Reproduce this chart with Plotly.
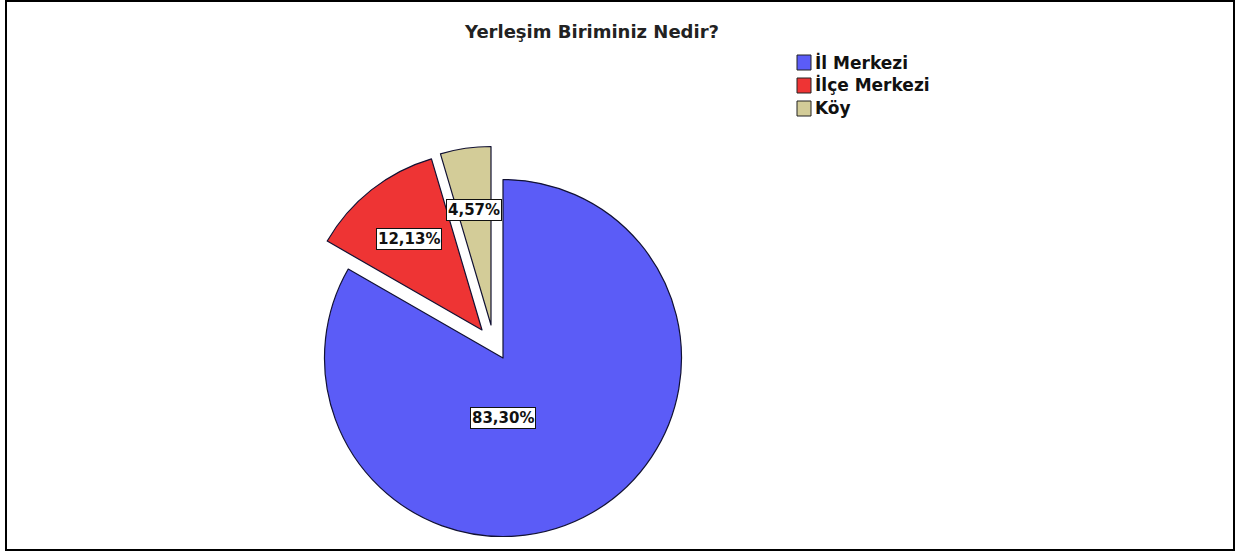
import plotly.graph_objects as go

# ---- data ----
TITLE = "Yerleşim Biriminiz Nedir?"
CATEGORIES = ["İl Merkezi", "İlçe Merkezi", "Köy"]
VALUES = [83.30, 12.13, 4.57]
COLORS = ["#5B5CF7", "#EE3434", "#D3CC98"]

# ---- layout / style constants ----
W, H = 1237, 554
R = 178.5                      # pie radius in px
CENTER = (503, 358)            # pie centre in px
EXPLODE = [(0, 0), (-21, -28), (-12, -33)]   # per-slice explode offset in px
LABEL_POS = [(503, 418), (409, 239), (474, 210)]  # label box centres in px
LEGEND_X, LEGEND_Y0, LEGEND_DY = 797, 62, 23
FONT = "DejaVu Sans, Verdana, sans-serif"

fig = go.Figure()
TRANSPARENT = "rgba(0,0,0,0)"
for i, cat in enumerate(CATEGORIES):
    cx = CENTER[0] + EXPLODE[i][0]
    cy = CENTER[1] + EXPLODE[i][1]
    colors = [COLORS[j] if j == i else TRANSPARENT for j in range(len(CATEGORIES))]
    lcolors = ["#111133" if j == i else TRANSPARENT for j in range(len(CATEGORIES))]
    lwidths = [1.2 if j == i else 0 for j in range(len(CATEGORIES))]
    fig.add_trace(go.Pie(
        labels=CATEGORIES,
        values=VALUES,
        sort=False,
        direction="clockwise",
        rotation=0,
        textinfo="none",
        hoverinfo="label+percent",
        showlegend=False,
        marker=dict(colors=colors, line=dict(color=lcolors, width=lwidths)),
        domain=dict(
            x=[(cx - R) / W, (cx + R) / W],
            y=[1 - (cy + R) / H, 1 - (cy - R) / H],
        ),
    ))

annotations = []
shapes = []
# percentage labels
total = sum(VALUES)
for i, v in enumerate(VALUES):
    pct = f"{v / total * 100:.2f}%".replace(".", ",")
    annotations.append(dict(
        x=LABEL_POS[i][0] / W, y=1 - LABEL_POS[i][1] / H,
        xref="paper", yref="paper", xanchor="center", yanchor="middle",
        text=f"<b>{pct}</b>", showarrow=False,
        font=dict(family=FONT, size=15, color="#111"),
        bgcolor="white", bordercolor="#111", borderwidth=1, borderpad=1,
    ))

# title
annotations.append(dict(
    x=591 / W, y=1 - 31 / H, xref="paper", yref="paper",
    xanchor="center", yanchor="middle",
    text=f"<b>{TITLE}</b>", showarrow=False,
    font=dict(family=FONT, size=18, color="#222"),
))

# legend (manual)
for i, cat in enumerate(CATEGORIES):
    yc = LEGEND_Y0 + i * LEGEND_DY
    shapes.append(dict(
        type="rect", xref="paper", yref="paper",
        x0=LEGEND_X / W, x1=(LEGEND_X + 14) / W,
        y0=1 - (yc + 8) / H, y1=1 - (yc - 7) / H,
        fillcolor=COLORS[i], line=dict(color="#222", width=1),
    ))
    annotations.append(dict(
        x=(LEGEND_X + 16) / W, y=1 - yc / H, xref="paper", yref="paper",
        xanchor="left", yanchor="middle", text=f"<b>{cat}</b>", showarrow=False,
        font=dict(family=FONT, size=17, color="#111"),
    ))

# outer frame
shapes.append(dict(
    type="rect", xref="paper", yref="paper",
    x0=6 / W, x1=1234 / W, y0=1 - 550 / H, y1=1 - 1 / H,
    line=dict(color="black", width=2), fillcolor=TRANSPARENT,
))

fig.update_layout(
    width=W, height=H,
    margin=dict(l=0, r=0, t=0, b=0),
    paper_bgcolor="white", plot_bgcolor="white",
    annotations=annotations, shapes=shapes,
)

fig.write_html(
    "out.html",
    config={"displayModeBar": False},
    post_script="document.body.style.margin='0';document.body.style.overflow='hidden';",
)
